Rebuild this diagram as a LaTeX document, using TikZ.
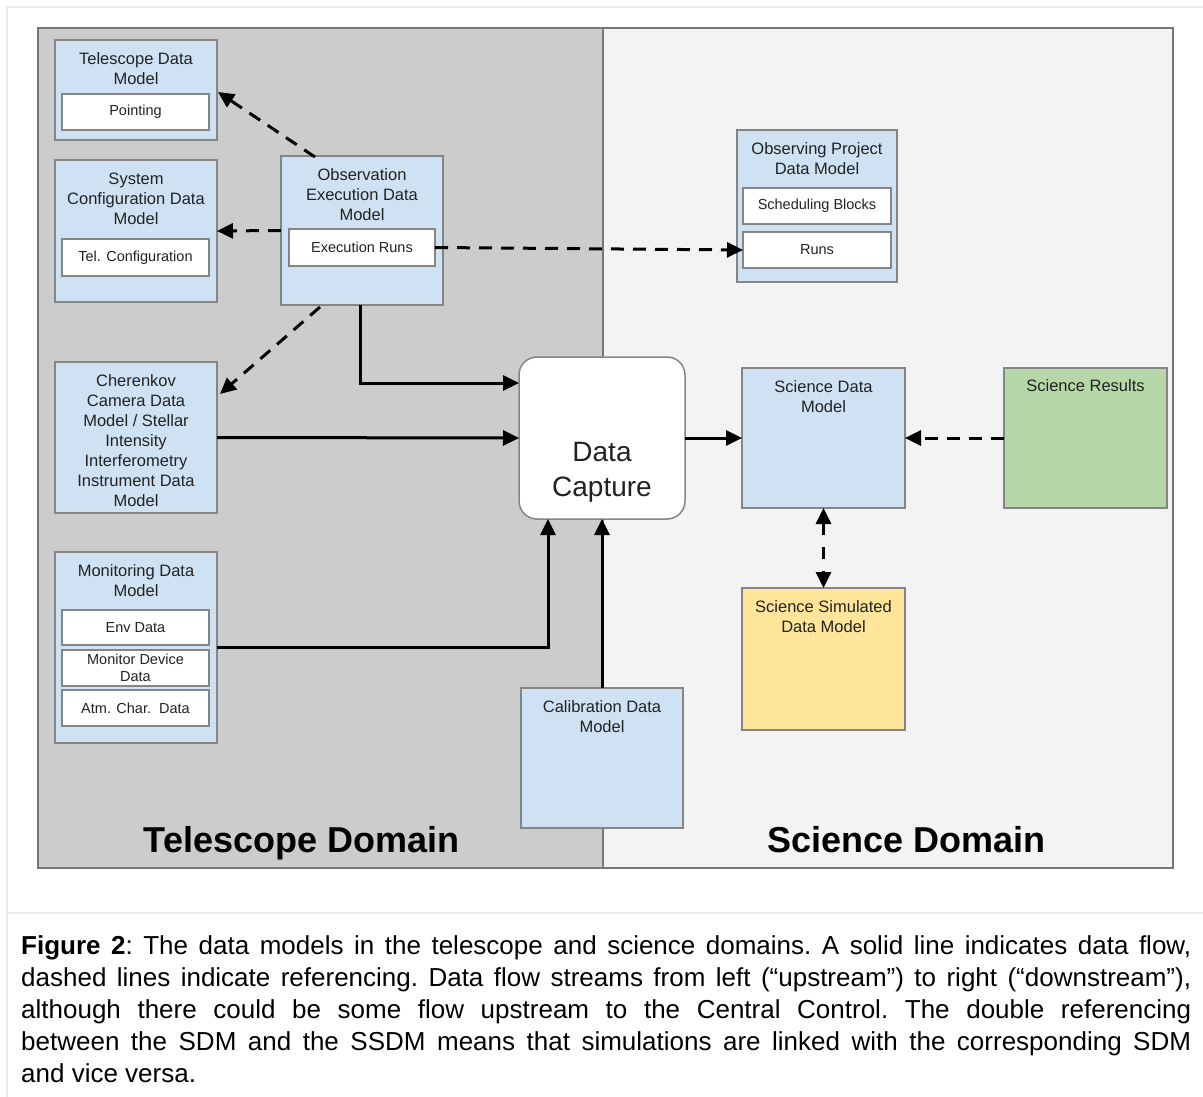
\documentclass[tikz,border=0pt]{standalone}
\usepackage{fontspec}
\setmainfont{Liberation Sans}
\usetikzlibrary{arrows.meta,calc}
\definecolor{boxblue}{HTML}{CFE2F3}
\definecolor{bordergray}{HTML}{858585}
\definecolor{teldom}{HTML}{CCCCCC}
\definecolor{scidom}{HTML}{F3F3F3}
\definecolor{domline}{HTML}{777777}
\definecolor{frameline}{HTML}{EBEBEB}
\definecolor{txt}{HTML}{222222}
\definecolor{resgreen}{HTML}{B6D7A8}
\definecolor{simyellow}{HTML}{FFE599}
\tikzset{
  box/.style={draw=bordergray, line width=1.5pt, fill=boxblue, inner sep=0pt, outer sep=0pt, anchor=north west},
  innerbox/.style={draw=bordergray, line width=1.5pt, fill=white, inner sep=0pt, outer sep=0pt, anchor=north west,
     font=\fontsize{14.5}{17}\selectfont, text=txt, align=center},
  ttl/.style={font=\fontsize{16.5}{20}\selectfont, text=txt, align=center, inner sep=0pt, anchor=north},
  flow/.style={line width=3pt, -{Triangle[length=16pt,width=15pt]}},
  refer/.style={line width=3pt, dash pattern=on 13pt off 9pt, -{Triangle[length=16pt,width=15pt]}},
  dom/.style={font=\fontsize{36}{42}\selectfont\bfseries, text=black, inner sep=0pt, anchor=base},
}
\begin{document}
\begin{tikzpicture}[x=1pt,y=-1pt]
\useasboundingbox (0,0) rectangle (1203,1097);
\fill[white] (0,0) rectangle (1203,1097);
% outer faint frame
\draw[frameline, line width=1.5pt] (7,1097) -- (7,7) -- (1203,7);
\draw[frameline, line width=1.5pt] (7,913) -- (1203,913);
% domains
\fill[teldom] (38,28) rectangle (603,868);
\fill[scidom] (603,28) rectangle (1173,868);
\draw[domline, line width=1.5pt] (38,28) rectangle (1173,868);
\draw[domline, line width=1.5pt] (603,28) -- (603,868);

% Telescope data model
\node[box, minimum width=162pt, minimum height=100pt] (tdm) at (55,40) {};
\node[ttl] (tdmt) at (136,52.5) {Telescope Data\\Model};
\node[innerbox, minimum width=147pt, minimum height=36pt] (ptg) at (62,94) {Pointing};

% System configuration
\node[box, minimum width=162pt, minimum height=142pt] (scm) at (55,160) {};
\node[ttl] (scmt) at (136,172.5) {System\\Configuration Data\\Model};
\node[innerbox, minimum width=147pt, minimum height=37pt] (telc) at (62,239) {Tel. Configuration};

% Observation execution
\node[box, minimum width=162pt, minimum height=149pt] (oedm) at (281,156) {};
\node[ttl] (oedmt) at (362,168.5) {Observation\\Execution Data\\Model};
\node[innerbox, minimum width=146pt, minimum height=37pt] (exr) at (289,229) {Execution Runs};

% Cherenkov camera
\node[box, minimum width=162pt, minimum height=151pt] (cam) at (55,362) {};
\node[ttl] (camt) at (136,374.5) {Cherenkov\\Camera Data\\Model / Stellar\\Intensity\\Interferometry\\Instrument Data\\Model};

% Monitoring
\node[box, minimum width=162pt, minimum height=191pt] (mon) at (55,552) {};
\node[ttl] (mont) at (136,564) {Monitoring Data\\Model};
\node[innerbox, minimum width=147pt, minimum height=35pt] (env) at (62,610) {Env Data};
\node[innerbox, minimum width=147pt, minimum height=36pt] (mdd) at (62,650) {Monitor Device\\Data};
\node[innerbox, minimum width=147pt, minimum height=36pt] (atm) at (62,690) {Atm. Char.\ \ Data};

% Observing project
\node[box, minimum width=160pt, minimum height=152pt] (opdm) at (737,130) {};
\node[ttl] (opdmt) at (817,142.5) {Observing Project\\Data Model};
\node[innerbox, minimum width=148pt, minimum height=36pt] (sb) at (743,188) {Scheduling Blocks};
\node[innerbox, minimum width=148pt, minimum height=36pt] (runs) at (743,232) {Runs};

% Data capture
\node[draw=bordergray, line width=1.5pt, fill=white, rounded corners=18pt, inner sep=0pt, outer sep=0pt,
      anchor=north west, minimum width=166pt, minimum height=162pt] (dc) at (519,357) {};
\node[font=\fontsize{28}{35}\selectfont, text=txt, align=center, inner sep=0pt, anchor=north] (dct) at (602,442) {Data\\Capture};

% Science data model
\node[box, minimum width=163pt, minimum height=140pt] (sdm) at (742,368) {};
\node[ttl] (sdmt) at (823.5,380.5) {Science Data\\Model};

% Science results
\node[box, fill=resgreen, minimum width=163pt, minimum height=140pt] (sr) at (1004,368) {};
\node[ttl] (srt) at (1085.5,379) {Science Results};

% Science simulated
\node[box, fill=simyellow, minimum width=163pt, minimum height=142pt] (ssdm) at (742,588) {};
\node[ttl] (ssdmt) at (823.5,600.5) {Science Simulated\\Data Model};

% Calibration
\node[box, minimum width=162pt, minimum height=140pt] (cal) at (521,688) {};
\node[ttl] (calt) at (602,700) {Calibration Data\\Model};

% Domain titles
\node[dom] (tdom) at (301.5,852) {Telescope Domain};
\node[dom] (sdom) at (906.5,852) {Science Domain};

% connectors
\draw[refer] ($(oedm.north west)+(34,1)$) -- ($(tdm.east)+(1,2)$);
\draw[refer] (oedm.west) -- (scm.east);
\draw[refer] (exr.east) -- (runs.west);
\draw[refer] ($(oedm.south west)+(39,2)$) -- ($(cam.north east)+(3,32)$);
\draw[flow] (oedm.south -| 360,0) |- ($(dc.north west)+(0,26)$);
\draw[flow] (cam.east) -- (dc.west);
\draw[flow] (mon.east) -| ($(dc.south west)+(29,0)$);
\draw[flow] (cal.north) -- (cal.north |- dc.south);
\draw[flow] (dc.east) -- (sdm.west);
\draw[refer] (sr.west) -- (sdm.east);
\draw[line width=3pt, dash pattern=on 12pt off 12pt, {Triangle[length=16pt,width=15pt]}-{Triangle[length=16pt,width=15pt]}] (sdm.south) -- (ssdm.north);

% caption
\node[anchor=north west, inner sep=0pt, text width=1170pt, align=justify,
      font=\fontsize{26}{32}\selectfont\frenchspacing, text=black] (cap) at (21,935)
{\textbf{Figure 2}: The data models in the telescope and science domains. A solid line indicates data flow,\linebreak
dashed lines indicate referencing. Data flow streams from left (“upstream”) to right (“downstream”),\linebreak
although there could be some flow upstream to the Central Control. The double referencing\linebreak
between the SDM and the SSDM means that simulations are linked with the corresponding SDM\linebreak
and vice versa.};
\end{tikzpicture}
\end{document}
